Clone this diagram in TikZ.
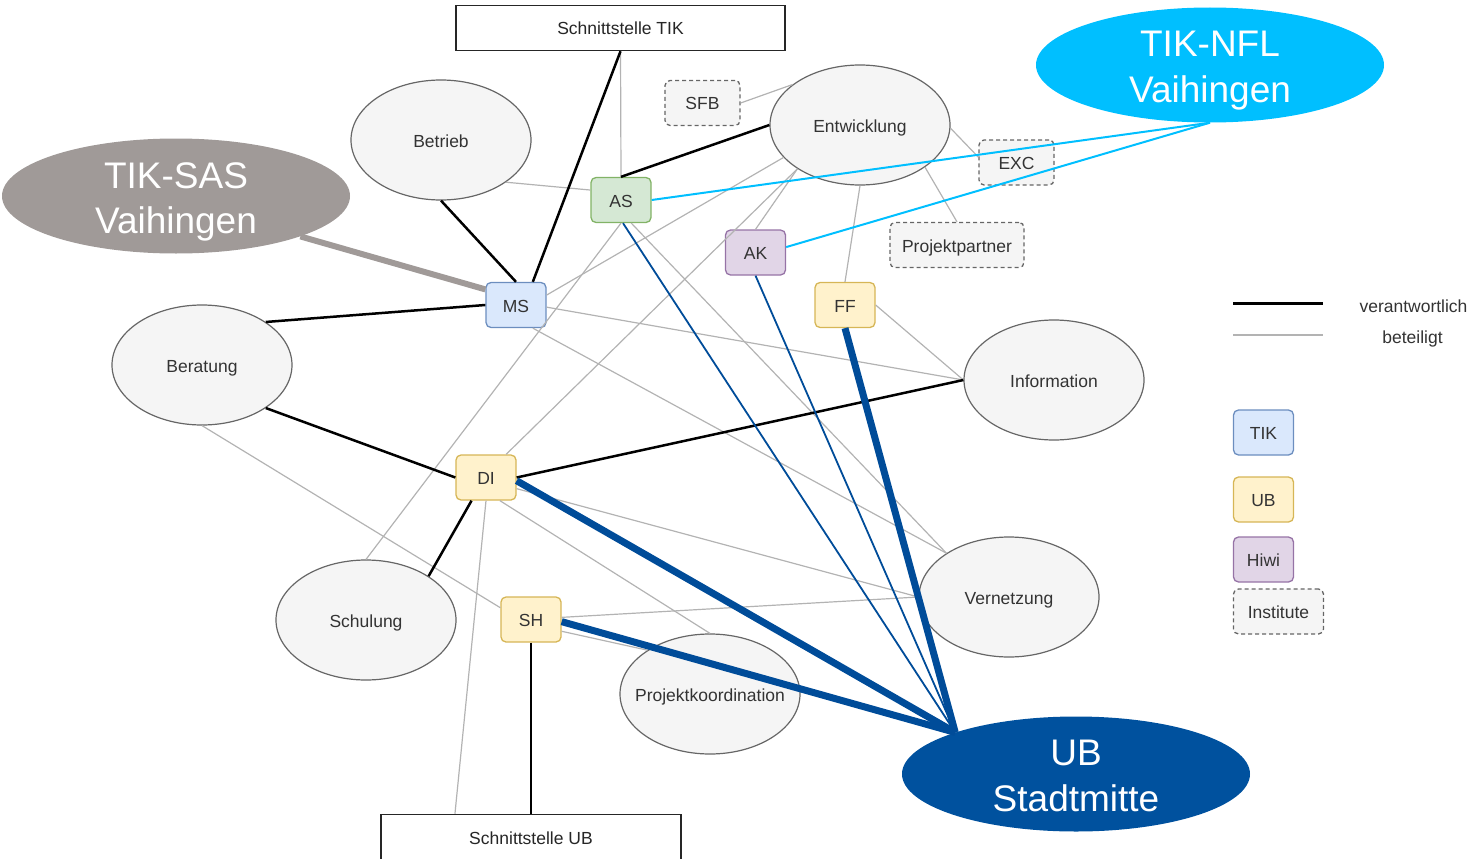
\documentclass[tikz,border=0pt]{standalone}
\usepackage{fontspec}
\setmainfont{Liberation Sans}
\usetikzlibrary{shapes.geometric}
\definecolor{txt}{HTML}{333333}
\definecolor{ellfill}{HTML}{F5F5F5}
\definecolor{elldraw}{HTML}{666666}
\definecolor{glc}{HTML}{B3B3B3}
\definecolor{dblue}{HTML}{004C99}
\definecolor{ubsfill}{HTML}{00519E}
\definecolor{lblue}{HTML}{00BFFF}
\definecolor{sasgray}{HTML}{A09A98}
\definecolor{tikfill}{HTML}{DAE8FC}\definecolor{tikdraw}{HTML}{6C8EBF}
\definecolor{ubfill}{HTML}{FFF2CC}\definecolor{ubdraw}{HTML}{D6B656}
\definecolor{hiwifill}{HTML}{E1D5E7}\definecolor{hiwidraw}{HTML}{9673A6}
\definecolor{asfill}{HTML}{D5E8D4}\definecolor{asdraw}{HTML}{82B366}
\newcommand{\lblfont}{\fontsize{17.5}{21}\selectfont}
\newcommand{\bigfont}{\fontsize{37}{45}\selectfont}
\tikzset{
  ell/.style={ellipse, draw=elldraw, fill=ellfill, line width=1.2pt, minimum width=180pt, minimum height=120pt, inner sep=0pt, text=txt, font=\lblfont, text height=15pt, text depth=1pt},
  bigell/.style={ellipse, minimum width=348pt, minimum height=115pt, inner sep=0pt},
  bigtxt/.style={text=white, font=\bigfont, inner sep=0pt, anchor=base},
  bx/.style={rectangle, rounded corners=5pt, line width=1.3pt, minimum width=60pt, minimum height=45pt, inner sep=0pt, text=txt, font=\lblfont, text height=15pt, text depth=1pt},
  tikbox/.style={bx, draw=tikdraw, fill=tikfill},
  ubbox/.style={bx, draw=ubdraw, fill=ubfill},
  hiwibox/.style={bx, draw=hiwidraw, fill=hiwifill},
  asbox/.style={bx, draw=asdraw, fill=asfill},
  instbox/.style={bx, draw=elldraw, fill=ellfill, dashed, dash pattern=on 4pt off 3pt},
  iface/.style={rectangle, draw=black!85, fill=white, line width=1.5pt, minimum height=45pt, inner sep=0pt, text=black!85, font=\lblfont, text height=15pt, text depth=1pt},
  resp/.style={line width=2.5pt, black},
  part/.style={line width=1.2pt, glc},
  dbthin/.style={line width=1.8pt, dblue},
  dbthick/.style={line width=7pt, dblue},
  lbline/.style={line width=2pt, lblue},
  sasline/.style={line width=6pt, sasgray},
  legtxt/.style={text=txt, font=\lblfont, inner sep=0pt, text height=15pt, text depth=1pt}
}
\begin{document}
\begin{tikzpicture}[x=1pt,y=-1pt]
\useasboundingbox (0,0) rectangle (1483,859);
% interfaces
\node[iface, minimum width=329pt] (stik) at (620.5,28) {Schnittstelle TIK};
\node[iface, minimum width=300pt] (sub) at (531,837) {Schnittstelle UB};
% task ellipses
\node[ell] (betrieb) at (441,140) {\makebox[0pt]{Betrieb}};
\node[ell] (entw) at (860,125) {\makebox[0pt]{Entwicklung}};
\node[ell] (berat) at (202,365) {\makebox[0pt]{Beratung}};
\node[ell] (info) at (1054,380) {\makebox[0pt]{Information}};
\node[ell] (schul) at (366,620) {\makebox[0pt]{Schulung}};
\node[ell] (vern) at (1009,597) {\makebox[0pt]{Vernetzung}};
\node[ell] (proj) at (710,694) {\makebox[0pt]{Projektkoordination}};
% big location ellipses
\node[bigell, fill=sasgray] (sas) at (176,196) {};
\node[bigtxt] (sas1) at (176,188) {TIK-SAS};
\node[bigtxt] (sas2) at (176,233) {Vaihingen};
\node[bigell, fill=lblue] (nfl) at (1210,65) {};
\node[bigtxt] (nfl1) at (1210,57) {TIK-NFL};
\node[bigtxt] (nfl2) at (1210,102) {Vaihingen};
\node[bigell, fill=ubsfill] (ubs) at (1076,774) {};
\node[bigtxt] (ubs1) at (1076,765.5) {UB};
\node[bigtxt] (ubs2) at (1076,811) {Stadtmitte};
% role boxes
\node[asbox] (as) at (621,200) {AS};
\node[tikbox] (ms) at (516,305) {MS};
\node[hiwibox] (ak) at (755.5,252.5) {AK};
\node[ubbox] (ff) at (845,305) {FF};
\node[ubbox] (di) at (486,477.5) {DI};
\node[ubbox] (sh) at (531,619.5) {SH};
\node[instbox, minimum width=75pt] (sfb) at (702.5,103) {SFB};
\node[instbox, minimum width=75pt] (exc) at (1016.5,162.5) {EXC};
\node[instbox, minimum width=134pt] (pp) at (957,245) {Projektpartner};
% legend
\coordinate (lb1) at (1233,303); \coordinate (lb2) at (1323,303);
\coordinate (lg1) at (1233,335); \coordinate (lg2) at (1323,335);
\draw[line width=3pt, black] (lb1) -- (lb2);
\draw[part] (lg1) -- (lg2);
\node[legtxt] (lverant) at (1413.5,305) {verantwortlich};
\node[legtxt] (lbet) at (1412.5,336) {beteiligt};
\node[tikbox] (ltik) at (1263.5,432.5) {TIK};
\node[ubbox] (lub) at (1263.5,499.5) {UB};
\node[hiwibox] (lhiwi) at (1263.5,559.5) {Hiwi};
\node[instbox, minimum width=90pt] (linst) at (1278.5,611.5) {Institute};
% participation (gray)
\draw[part] (stik.south) -- (as.north);
\draw[part] (betrieb.-33) -- (as.162);
\draw[part] (sfb.east) -- (entw.149);
\draw[part] (entw.-2) -- (exc.172);
\draw[part] (entw.-33) -- (pp.north);
\draw[part] (entw.south) -- (ff.north);
\draw[part] (entw.215) -- (ak.north);
\draw[part] (entw.215) -- (di.49);
\draw[part] (entw.203) -- (ms.18);
\draw[part] (as.south) -- (schul.north);
\draw[part] (as.-66) -- (vern.145);
\draw[part] (ms.-4) -- (info.west);
\draw[part] (ms.-54) -- (vern.145);
\draw[part] (ff.east) -- (info.west);
\draw[part] (di.-20) -- (vern.west);
\draw[part] (di.-59) -- (proj.north);
\draw[part] (di.south) -- (sub.163);
\draw[part] (berat.south) -- (sh.159);
\draw[part] (sh.4) -- (vern.west);
\draw[part] (sh.-21) -- (proj.145);
% responsibility (black)
\draw[resp] (stik.south) -- (ms.54);
\draw[resp] (betrieb.south) -- (ms.north);
\draw[resp] (berat.34) -- (ms.west);
\draw[resp] (berat.-34) -- (di.west);
\draw[resp] (di.east) -- (info.west);
\draw[resp] (di.-122) -- (schul.35);
\draw[resp] (as.north) -- (entw.west);
\draw[resp] (sh.south) -- (sub.north);
% locations
\draw[sasline] (sas.-18) -- (ms.153);
\draw[lbline] (as.east) -- (nfl.south);
\draw[lbline] (ak.10) -- (nfl.south);
\draw[dbthin] (as.-85) -- (ubs.161);
\draw[dbthin] (ak.south) -- (ubs.161);
\draw[dbthick] (di.-6) -- (ubs.161);
\draw[dbthick] (sh.-4) -- (ubs.161);
\draw[dbthick] (ff.south) -- (ubs.161);
\end{tikzpicture}
\end{document}
